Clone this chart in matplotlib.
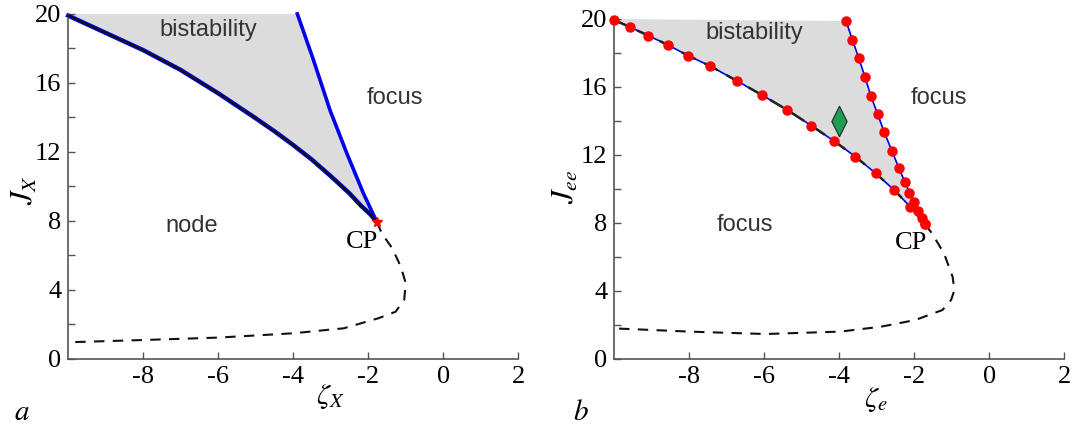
import numpy as np
import matplotlib
matplotlib.use("Agg")
import matplotlib.pyplot as plt
from matplotlib.path import Path

plt.rcParams['mathtext.fontset'] = 'stix'

# ---- panel a: bifurcation lines in (zeta_X, J_X) ----
a_low_z = [-10.0, -9.0, -8.0, -7.0, -6.0, -5.0, -4.5, -4.0, -3.5, -3.0, -2.5, -2.2, -1.95, -1.77]
a_low_J = [19.9, 18.9, 17.9, 16.75, 15.4, 13.95, 13.2, 12.4, 11.55, 10.6, 9.6, 8.9, 8.4, 7.94]
a_up_z = [-1.77, -2.13, -2.57, -3.02, -3.46, -3.89]
a_up_J = [7.94, 9.61, 11.92, 14.43, 17.33, 20.0]
a_dash_z = [-1.77, -1.64, -1.36, -1.13, -1.0, -1.04, -1.27, -1.73, -2.65, -4.0, -6.0, -8.0, -10.0]
a_dash_J = [7.94, 7.29, 6.42, 5.35, 4.4, 3.42, 2.74, 2.36, 1.78, 1.49, 1.24, 1.10, 0.97]
a_cp = (-1.77, 7.94)

# ---- panel b: simulation points (red) and theory (blue / dashed) ----
b_low_z = [-10.0, -9.57, -9.09, -8.57, -8.03, -7.45, -6.74, -6.05, -5.39, -4.75,
           -4.14, -3.57, -3.03, -2.54, -2.11, -1.71]
b_low_J = [19.94, 19.51, 19.02, 18.47, 17.84, 17.24, 16.37, 15.51, 14.65, 13.73,
           12.82, 11.90, 10.92, 9.94, 8.96, 7.92]
b_up_z = [-1.71, -1.80, -1.89, -2.01, -2.13, -2.25, -2.41, -2.60, -2.80, -2.98,
          -3.16, -3.32, -3.48, -3.65, -3.82]
b_up_J = [7.92, 8.31, 8.73, 9.24, 9.78, 10.41, 11.22, 12.25, 13.33, 14.41,
          15.49, 16.61, 17.69, 18.76, 19.88]
b_loop_z = [-1.71, -1.53, -1.21, -0.98, -0.93, -1.02, -1.25, -1.98, -2.89, -3.98,
            -5.98, -7.98, -10.0]
b_loop_J = [7.92, 7.39, 6.22, 4.84, 4.06, 3.47, 2.88, 2.29, 1.90, 1.61,
            1.47, 1.61, 1.80]
b_probe = (-4.0, 14.0)

fig = plt.figure(figsize=(10.74, 4.25), dpi=100)
ax1 = fig.add_axes([0.0635, 0.1553, 0.419, 0.812])
ax2 = fig.add_axes([0.572, 0.1553, 0.419, 0.800])

serif = 'Liberation Serif'
sans = 'Liberation Sans'


def style(ax):
    ax.set_xlim(-10, 2)
    ax.set_ylim(0, 20)
    for s in ('top', 'right'):
        ax.spines[s].set_visible(False)
    for s in ('left', 'bottom'):
        ax.spines[s].set_color('#555555')
        ax.spines[s].set_linewidth(1.2)
    ax.set_xticks([-8, -6, -4, -2, 0, 2])
    ax.set_xticklabels(['-8', '-6', '-4', '-2', '0', '2'])
    ax.set_yticks(np.arange(0, 21, 2))
    ax.set_yticklabels([str(v) if v % 4 == 0 else '' for v in range(0, 21, 2)])
    ax.tick_params(direction='in', length=5, width=1.0, color='#555555',
                   labelsize=19, pad=5)
    for lab in ax.get_xticklabels() + ax.get_yticklabels():
        lab.set_fontfamily(serif)


def region(ax, lz, lJ, uz, uJ):
    # bistable wedge between the two saddle-node branches, capped at J=20
    xs = list(lz) + list(uz) + [lz[0]]
    ys = list(lJ) + list(uJ) + [20.0]
    ax.fill(xs, ys, color='#dcdcdc', lw=0, zorder=0)


def labels(ax, xl, yl, xpos, ypos):
    ax.set_xlabel(xl, fontsize=21, va='center')
    ax.xaxis.set_label_coords(*xpos)
    ax.set_ylabel(yl, fontsize=22, va='center')
    ax.yaxis.set_label_coords(*ypos)


# panel a
style(ax1)
region(ax1, a_low_z, a_low_J, a_up_z, a_up_J)
ax1.plot(a_low_z, a_low_J, color='#0000ee', lw=3.2, zorder=2, clip_on=False)
ax1.plot(a_low_z, a_low_J, color='#111111', lw=1.6, zorder=3, clip_on=False)
ax1.plot(a_up_z, a_up_J, color='#0000ee', lw=2.6, zorder=2, clip_on=False)
ax1.plot(a_dash_z, a_dash_J, color='#111111', lw=1.5, ls=(0, (5, 4)), zorder=2)
ax1.plot(*a_cp, marker='*', color='red', ms=7, zorder=4)

ax1.text(-6.27, 19.07, 'bistability', family=sans, fontsize=17, color='#333333',
         ha='center', va='center')
ax1.text(-1.30, 15.13, 'focus', family=sans, fontsize=17, color='#333333',
         ha='center', va='center')
ax1.text(-6.71, 7.7, 'node', family=sans, fontsize=17, color='#333333',
         ha='center', va='center')
ax1.text(-2.16, 6.78, 'CP', family=serif, fontsize=19, ha='center', va='center')
labels(ax1, r'$\zeta_X$', r'$J_X$', (0.583, -0.11), (-0.098, 0.49))

# panel b
style(ax2)
region(ax2, b_low_z, b_low_J, b_up_z, b_up_J)
ax2.plot(b_low_z, b_low_J, color='#0000ee', lw=1.2, zorder=2, clip_on=False)
ax2.plot(b_up_z, b_up_J, color='#0000ee', lw=1.2, zorder=2, clip_on=False)
ax2.plot(b_low_z, b_low_J, color='#222222', lw=1.8, ls=(0, (6, 4)), zorder=3,
         clip_on=False)
ax2.plot(b_loop_z, b_loop_J, color='#111111', lw=1.5, ls=(0, (5, 4)), zorder=3)
ax2.plot(b_low_z, b_low_J, 'o', color='red', ms=6.5, zorder=4, clip_on=False)
ax2.plot(b_up_z, b_up_J, 'o', color='red', ms=6.5, zorder=4, clip_on=False)
diamond = Path([(0, 1), (0.5, 0), (0, -1), (-0.5, 0), (0, 1)],
               [Path.MOVETO, Path.LINETO, Path.LINETO, Path.LINETO, Path.CLOSEPOLY])
ax2.plot(*b_probe, marker=diamond, ms=22, mfc='#1e9e55', mec='#222222', mew=0.8,
         zorder=5)

ax2.text(-6.26, 19.18, 'bistability', family=sans, fontsize=17, color='#333333',
         ha='center', va='center')
ax2.text(-1.34, 15.35, 'focus', family=sans, fontsize=17, color='#333333',
         ha='center', va='center')
ax2.text(-6.53, 7.88, 'focus', family=sans, fontsize=17, color='#333333',
         ha='center', va='center')
ax2.text(-2.09, 6.82, 'CP', family=serif, fontsize=19, ha='center', va='center')
labels(ax2, r'$\zeta_e$', r'$J_{ee}$', (0.58, -0.12), (-0.108, 0.506))

fig.text(22 / 1074, 1 - 412 / 425, r'$a$', fontsize=21, ha='center', va='center')
fig.text(581 / 1074, 1 - 412 / 425, r'$b$', fontsize=21, ha='center', va='center')

fig.savefig('out.png', dpi=100)
